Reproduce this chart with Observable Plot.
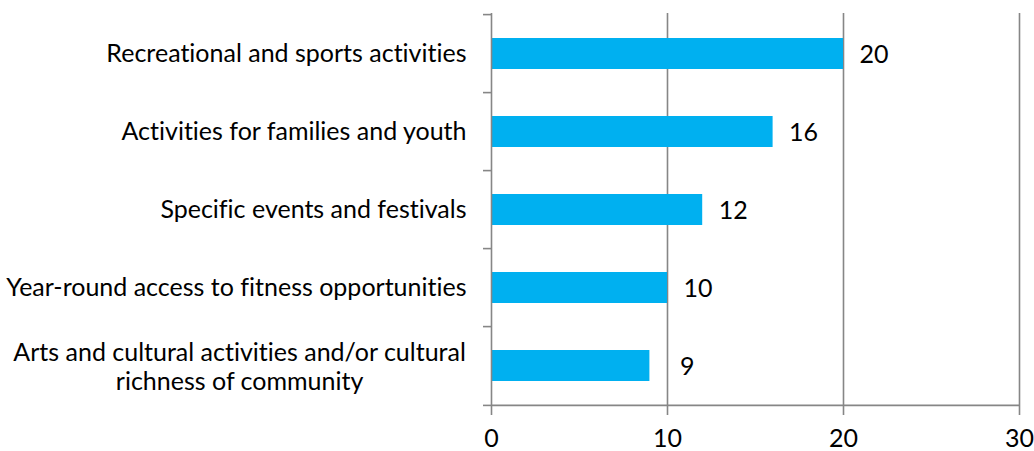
<!DOCTYPE html>
<html>
<head>
<meta charset="utf-8">
<script src="https://cdn.jsdelivr.net/npm/d3@7"></script>
<script src="https://cdn.jsdelivr.net/npm/@observablehq/plot@0.6"></script>
<style>
  html, body { margin: 0; padding: 0; background: #fff; }
  svg text { font-variant-ligatures: none; font-feature-settings: "liga" 0, "clig" 0; }
</style>
</head>
<body>
<div id="chart"></div>
<script>
const categories = [
  "Recreational and sports activities",
  "Activities for families and youth",
  "Specific events and festivals",
  "Year-round access to fitness opportunities",
  "Arts and cultural activities and/or cultural richness of community"
];
const values = [20, 16, 12, 10, 9];
const xTicks = [0, 10, 20, 30];
const wrappedLast = ["Arts and cultural activities and/or cultural", "richness of community"];

const data = categories.map((c, i) => ({category: c, value: values[i]}));

const W = 1034, H = 451;
const mL = 491, mR = 15, mT = 13, mB = 44;
const FONT = "Lato";
const FS = 25;
const gray = "#868686";
const step = (H - mT - mB) / categories.length;
const pxPerUnit = (W - mL - mR) / 30;
const lastCat = categories[categories.length - 1];

const ctx = document.createElement("canvas").getContext("2d");
ctx.font = `${FS}px ${FONT}`;
const w1 = ctx.measureText(wrappedLast[0]).width;

// value labels: shift past a gridline when they would overlap it
const GAP = 16;
const collides = d => {
  const s = d.value * pxPerUnit + GAP, e = s + ctx.measureText(String(d.value)).width;
  return xTicks.some(t => t * pxPerUnit >= s - 2 && t * pxPerUnit <= e + 2);
};

const chart = Plot.plot({
  width: W, height: H,
  marginLeft: mL, marginRight: mR, marginTop: mT, marginBottom: mB,
  style: {fontFamily: FONT, fontSize: FS + "px", color: "black", background: "white"},
  x: {domain: [0, 30], ticks: xTicks, label: null},
  y: {domain: categories, paddingInner: 0.6, paddingOuter: 0.3, align: 0.5, label: null},
  marks: [
    Plot.gridX(xTicks.slice(1), {stroke: gray, strokeOpacity: 1, strokeWidth: 1.6}),
    Plot.barX(data, {x: "value", y: "category", fill: "#00B0F0"}),
    Plot.ruleX([0], {stroke: gray, strokeWidth: 1.6}),
    Plot.ruleY([lastCat], {x1: 0, x2: 30, dy: step / 2, stroke: gray, strokeWidth: 1.6}),
    Plot.ruleY(categories, {x1: -8 / pxPerUnit, x2: 0, dy: -step / 2, stroke: gray, strokeWidth: 1.6}),
    Plot.ruleY([lastCat], {x1: -8 / pxPerUnit, x2: 0, dy: step / 2, stroke: gray, strokeWidth: 1.6}),
    Plot.axisX({ticks: xTicks, tickSize: 8, stroke: gray, strokeWidth: 1.6, tickFormat: () => "", label: null}),
    Plot.axisX({ticks: xTicks, tickSize: 0, tickPadding: 22, fontSize: FS, fill: "black", label: null}),
    Plot.axisY({tickSize: 0, tickPadding: 25, fontSize: FS, fill: "black", label: null,
      tickFormat: d => d === lastCat ? "" : d}),
    Plot.text([lastCat], {x: () => 0, y: d => d, text: () => wrappedLast.join("\n"),
      dx: -25 - w1 / 2, textAnchor: "middle", lineHeight: 1.17, fontSize: FS, fill: "black"}),
    Plot.text(data, {filter: d => !collides(d), x: "value", y: "category", text: d => String(d.value),
      dx: GAP, dy: 1, textAnchor: "start", fontSize: FS, fill: "black"}),
    Plot.text(data, {filter: d => collides(d), x: "value", y: "category", text: d => String(d.value),
      dx: 2 * GAP - 2, dy: 1, textAnchor: "start", fontSize: FS, fill: "black"})
  ]
});
document.getElementById("chart").append(chart);
</script>
</body>
</html>
